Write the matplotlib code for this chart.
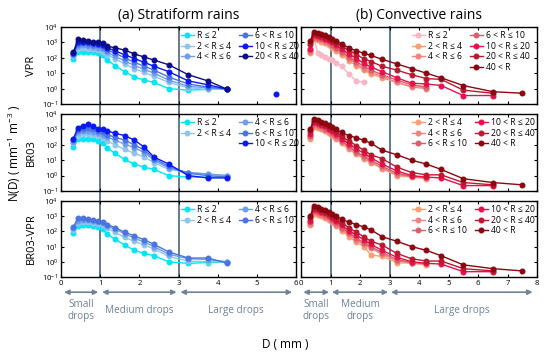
import numpy as np
import matplotlib
matplotlib.use('Agg')
import matplotlib.pyplot as plt
from matplotlib.lines import Line2D
from matplotlib.transforms import blended_transform_factory

plt.rcParams['font.family'] = ['Open Sans', 'DejaVu Sans']
plt.rcParams['mathtext.fontset'] = 'custom'
plt.rcParams['mathtext.rm'] = 'Open Sans'

nan = np.nan
# drop diameter bins (mm)
D = [0.312, 0.437, 0.562, 0.687, 0.812, 0.937, 1.062, 1.187, 1.375, 1.625,
     1.875, 2.125, 2.375, 2.75, 3.25, 3.75, 4.25, 4.75, 5.5, 6.5, 7.5]

lab_R2 = 'R ≤ 2'
lab_R4 = '2 < R ≤ 4'
lab_R6 = '4 < R ≤ 6'
lab_R10 = '6 < R ≤ 10'
lab_R20 = '10 < R ≤ 20'
lab_R40 = '20 < R ≤ 40'
lab_R99 = '40 < R'

# log10 N(D) values
# (a) Stratiform - VPR
s_vpr_R2 = [1.9, 2.35, 2.4, 2.4, 2.38, 2.3, 2.15, 1.85, 1.5, 1.1, 0.75, 0.55, 0.4, 0.0, -0.1, -0.05, 0.0]
s_vpr_R4 = [2.1, 2.6, 2.65, 2.6, 2.55, 2.5, 2.4, 2.2, 1.95, 1.6, 1.3, 1.05, 0.8, 0.4, 0.05, -0.05, 0.0]
s_vpr_R6 = [2.2, 2.75, 2.8, 2.75, 2.7, 2.65, 2.55, 2.35, 2.1, 1.8, 1.5, 1.25, 1.0, 0.55, 0.15, 0.05, 0.0]
s_vpr_R10 = [2.25, 2.9, 2.95, 2.9, 2.85, 2.8, 2.7, 2.5, 2.3, 2.0, 1.7, 1.45, 1.2, 0.75, 0.3, 0.1, -0.05]
s_vpr_R20 = [2.3, 3.05, 3.05, 3.0, 2.95, 2.9, 2.8, 2.65, 2.45, 2.2, 1.95, 1.7, 1.45, 1.1, 0.5, 0.25, -0.05, nan, -0.35]
s_vpr_R40 = [2.35, 3.2, 3.15, 3.1, 3.05, 3.0, 2.95, 2.75, 2.65, 2.5, 2.25, 2.05, 1.85, 1.55, 0.9, 0.5, -0.05]
# (a) Stratiform - BR03
s_br_R2 = [1.85, 2.35, 2.4, 2.4, 2.35, 2.25, 2.1, 1.8, 1.45, 1.05, 0.75, 0.55, 0.4, 0.0, -0.1, -0.1, -0.05]
s_br_R4 = [2.1, 2.6, 2.7, 2.7, 2.65, 2.55, 2.45, 2.25, 2.0, 1.7, 1.45, 1.2, 0.85, 0.4, 0.2, 0.1, 0.0]
s_br_R6 = [2.2, 2.8, 2.9, 2.9, 2.85, 2.75, 2.65, 2.5, 2.3, 2.05, 1.8, 1.5, 1.0, 0.5, 0.2, 0.1, 0.0]
s_br_R10 = [2.3, 2.95, 3.05, 3.1, 3.0, 2.9, 2.8, 2.65, 2.5, 2.3, 2.0, 1.65, 1.1, 0.6, 0.15, 0.0, -0.1]
s_br_R20 = [2.4, 3.1, 3.25, 3.35, 3.2, 3.05, 3.0, 2.9, 2.75, 2.6, 2.3, 1.85, 1.2, 0.75, 0.0, -0.15, -0.15]
# (a) Stratiform - BR03-VPR
s_bv_R2 = [1.9, 2.35, 2.4, 2.4, 2.38, 2.3, 2.15, 1.8, 1.5, 1.1, 0.75, 0.55, 0.4, 0.0, -0.1, -0.05, 0.0]
s_bv_R4 = [2.1, 2.55, 2.6, 2.6, 2.55, 2.5, 2.4, 2.2, 1.95, 1.6, 1.35, 1.1, 0.85, 0.35, 0.05, 0.0, 0.0]
s_bv_R6 = [2.2, 2.7, 2.75, 2.75, 2.7, 2.65, 2.55, 2.35, 2.15, 1.85, 1.55, 1.3, 1.0, 0.5, 0.2, 0.15, 0.0]
s_bv_R10 = [2.3, 2.85, 2.85, 2.8, 2.75, 2.7, 2.65, 2.45, 2.25, 1.95, 1.7, 1.45, 1.15, 0.65, 0.25, 0.25, -0.1]
# (b) Convective - VPR
c_vpr_R2 = [2.8, 3.4, 2.3, 2.15, 2.05, 1.95, 1.85, 1.65, 1.45, 0.95, 0.5, 0.4]
c_vpr_R4 = [2.3, 3.2, 3.15, 3.05, 2.95, 2.8, 2.65, 2.45, 2.2, 1.8, 1.5, 1.2, 0.95, 0.7, 0.4, 0.15, 0.05]
c_vpr_R6 = [2.4, 3.3, 3.25, 3.2, 3.05, 2.95, 2.75, 2.55, 2.3, 1.95, 1.6, 1.3, 1.05, 0.8, 0.4, 0.1, 0.0]
c_vpr_R10 = [2.5, 3.35, 3.3, 3.25, 3.15, 3.0, 2.85, 2.65, 2.4, 2.05, 1.75, 1.45, 1.2, 0.9, 0.55, 0.25, 0.1]
c_vpr_R20 = [2.6, 3.45, 3.4, 3.35, 3.25, 3.15, 3.0, 2.8, 2.55, 2.25, 1.95, 1.65, 1.4, 1.1, 0.7, 0.35, 0.3, 0.2, -0.45, -0.45]
c_vpr_R40 = [2.9, 3.55, 3.5, 3.45, 3.35, 3.25, 3.1, 2.95, 2.75, 2.5, 2.2, 1.95, 1.75, 1.45, 1.2, 0.9, 0.65, 0.6, -0.1, -0.3]
c_vpr_R99 = [3.1, 3.65, 3.6, 3.55, 3.45, 3.35, 3.25, 3.1, 2.9, 2.65, 2.45, 2.3, 2.15, 1.9, 1.6, 1.3, 1.0, 0.7, 0.2, -0.2, -0.3]
# (b) Convective - BR03
c_br_R4 = [2.4, 3.15, 3.1, 3.0, 2.9, 2.75, 2.6, 2.4, 2.1, 1.7, 1.4, 1.1, 0.85, 0.45, 0.0, -0.1, -0.2]
c_br_R6 = [2.5, 3.25, 3.2, 3.1, 2.95, 2.85, 2.65, 2.45, 2.15, 1.8, 1.45, 1.15, 0.9, 0.5, 0.05, -0.05, -0.15]
c_br_R10 = [2.6, 3.35, 3.3, 3.2, 3.05, 2.95, 2.75, 2.55, 2.25, 1.9, 1.55, 1.25, 1.0, 0.6, 0.15, -0.05, -0.1]
c_br_R20 = [2.7, 3.45, 3.4, 3.3, 3.2, 3.05, 2.9, 2.7, 2.4, 2.05, 1.75, 1.45, 1.15, 0.75, 0.3, 0.0, -0.1, -0.15, -0.65, -0.65]
c_br_R40 = [2.9, 3.55, 3.5, 3.4, 3.3, 3.15, 3.0, 2.8, 2.55, 2.25, 1.95, 1.65, 1.35, 1.1, 0.55, 0.2, 0.05, 0.05, -0.45, -0.6]
c_br_R99 = [3.0, 3.65, 3.6, 3.5, 3.4, 3.3, 3.15, 3.0, 2.8, 2.6, 2.45, 2.3, 2.1, 1.65, 1.35, 1.0, 0.75, 0.4, -0.2, -0.45, -0.6]
# (b) Convective - BR03-VPR
c_bv_R4 = [2.4, 3.15, 3.1, 3.0, 2.9, 2.75, 2.6, 2.35, 2.05, 1.65, 1.3, 1.0, 0.45, 0.35, -0.05, -0.1, -0.2]
c_bv_R6 = [2.5, 3.25, 3.2, 3.1, 2.95, 2.85, 2.65, 2.45, 2.15, 1.8, 1.45, 1.15, 0.9, 0.5, 0.05, -0.05, -0.15]
c_bv_R10 = [2.6, 3.35, 3.3, 3.2, 3.05, 2.95, 2.75, 2.55, 2.25, 1.9, 1.55, 1.25, 1.0, 0.6, 0.15, -0.05, -0.1]
c_bv_R20 = [2.7, 3.45, 3.4, 3.3, 3.2, 3.05, 2.9, 2.7, 2.4, 2.05, 1.75, 1.45, 1.15, 0.75, 0.3, 0.0, -0.1, -0.15, -0.65, -0.65]
c_bv_R40 = [2.9, 3.55, 3.5, 3.4, 3.3, 3.15, 3.0, 2.8, 2.55, 2.25, 1.95, 1.65, 1.35, 1.1, 0.55, 0.2, 0.05, 0.05, -0.45, -0.6]
c_bv_R99 = [3.0, 3.65, 3.6, 3.5, 3.4, 3.3, 3.15, 3.0, 2.8, 2.6, 2.45, 2.3, 2.1, 1.65, 1.35, 1.0, 0.75, 0.4, -0.2, -0.45, -0.6]

blue_R2, blue_R4, blue_R6, blue_R10, blue_R20, blue_R40 = '#00e6f4', '#8fc6ee', '#6e9eec', '#4a74e0', '#0a18f2', '#0c0c88'
red_R2, red_R4, red_R6, red_R10, red_R20, red_R40, red_R99 = '#f8b6c6', '#f8a070', '#f08282', '#d6606c', '#e8104c', '#be1830', '#8c0610'

panels = [
    # (row, col, series list, legend blank index)
    (0, 0, [(s_vpr_R2, blue_R2, lab_R2), (s_vpr_R4, blue_R4, lab_R4), (s_vpr_R6, blue_R6, lab_R6),
            (s_vpr_R10, blue_R10, lab_R10), (s_vpr_R20, blue_R20, lab_R20), (s_vpr_R40, blue_R40, lab_R40)], None),
    (1, 0, [(s_br_R2, blue_R2, lab_R2), (s_br_R4, blue_R4, lab_R4), (s_br_R6, blue_R6, lab_R6),
            (s_br_R10, blue_R10, lab_R10), (s_br_R20, blue_R20, lab_R20)], 2),
    (2, 0, [(s_bv_R2, blue_R2, lab_R2), (s_bv_R4, blue_R4, lab_R4), (s_bv_R6, blue_R6, lab_R6),
            (s_bv_R10, blue_R10, lab_R10)], None),
    (0, 1, [(c_vpr_R2, red_R2, lab_R2), (c_vpr_R4, red_R4, lab_R4), (c_vpr_R6, red_R6, lab_R6),
            (c_vpr_R10, red_R10, lab_R10), (c_vpr_R20, red_R20, lab_R20), (c_vpr_R40, red_R40, lab_R40),
            (c_vpr_R99, red_R99, lab_R99)], 3),
    (1, 1, [(c_br_R4, red_R4, lab_R4), (c_br_R6, red_R6, lab_R6), (c_br_R10, red_R10, lab_R10),
            (c_br_R20, red_R20, lab_R20), (c_br_R40, red_R40, lab_R40), (c_br_R99, red_R99, lab_R99)], None),
    (2, 1, [(c_bv_R4, red_R4, lab_R4), (c_bv_R6, red_R6, lab_R6), (c_bv_R10, red_R10, lab_R10),
            (c_bv_R20, red_R20, lab_R20), (c_bv_R40, red_R40, lab_R40), (c_bv_R99, red_R99, lab_R99)], None),
]

W, H = 550, 358
fig = plt.figure(figsize=(W / 100, H / 100), dpi=100)

col_x = [(61, 296), (301, 537)]
row_y = [(27, 104), (114, 191), (201, 277)]
xmax = [6, 8]
axes = {}
for r in range(3):
    for c in range(2):
        x0, x1 = col_x[c]
        y0, y1 = row_y[r]
        ax = fig.add_axes([x0 / W, 1 - y1 / H, (x1 - x0) / W, (y1 - y0) / H])
        ax.set_facecolor('none')
        axes[(r, c)] = ax

for r, c, series, blank in panels:
    ax = axes[(r, c)]
    handles = []
    for vals, col, lab in series:
        n = len(vals)
        y = 10 ** np.array(vals, dtype=float)
        h, = ax.plot(D[:n], y, '-o', color=col, lw=1.0, ms=3.3, label=lab)
        handles.append(h)
    labels = [h.get_label() for h in handles]
    if blank is not None:
        handles.insert(blank, Line2D([], [], lw=0, marker=None))
        labels.insert(blank, '')
    lx = 0.51 if c == 0 else 0.47
    ax.legend(handles, labels, loc='upper left', bbox_to_anchor=(lx, 0.95), ncol=2,
              frameon=False, fontsize=6.2, handlelength=1.5, handletextpad=0.4,
              columnspacing=0.9, labelspacing=0.2, borderaxespad=0, borderpad=0)
    ax.set_yscale('log')
    ax.set_ylim(0.1, 1e4)
    ax.set_xlim(0, xmax[c])
    ax.set_xticks(range(0, xmax[c] + 1))
    ax.set_yticks([1e-1, 1e0, 1e1, 1e2, 1e3, 1e4])
    ax.minorticks_off()
    ax.tick_params(direction='in', top=True, right=True, length=2.5, width=0.8,
                   labelsize=5.6, pad=2)
    if c == 1:
        ax.tick_params(labelleft=False)
    if r < 2:
        ax.tick_params(labelbottom=False)
    for s in ax.spines.values():
        s.set_linewidth(1.0)

# vertical separators at D = 1 and 3 mm, spanning all rows
sep_col = '#63788f'
for c in range(2):
    ax = axes[(2, c)]
    tr = blended_transform_factory(ax.transData, fig.transFigure)
    for xv in [1, 3]:
        fig.add_artist(Line2D([xv, xv], [1 - row_y[2][1] / H, 1 - row_y[0][0] / H],
                              transform=tr, color=sep_col, lw=1.4, zorder=-1))

# arrows and drop-size labels
arr_col = '#6f8398'
ranges = {0: [(0.08, 0.95, 'Small\ndrops'), (1.05, 2.95, 'Medium drops'), (3.05, 5.9, 'Large drops')],
          1: [(0.08, 0.95, 'Small\ndrops'), (1.05, 2.95, 'Medium\ndrops'), (3.05, 7.85, 'Large drops')]}
for c in range(2):
    ax = axes[(2, c)]
    tr = ax.get_xaxis_transform()
    for a, b, txt in ranges[c]:
        ax.annotate('', xy=(a, -0.2), xytext=(b, -0.2), xycoords=tr, textcoords=tr,
                    arrowprops=dict(arrowstyle='<|-|>', color=arr_col, lw=1.2,
                                    mutation_scale=7, shrinkA=0, shrinkB=0),
                    annotation_clip=False)
        ax.text((a + b) / 2, -0.44, txt, transform=tr, ha='center', va='center',
                fontsize=7.2, color=arr_col, linespacing=1.1)

# titles and axis labels
fig.text((61 + 296) / 2 / W, 1 - 15 / H, '(a) Stratiform rains', ha='center', va='center', fontsize=10)
fig.text((301 + 537) / 2 / W, 1 - 15 / H, '(b) Convective rains', ha='center', va='center', fontsize=10)
row_names = ['VPR', 'BR03', 'BR03-VPR']
for r in range(3):
    yc = 1 - (row_y[r][0] + row_y[r][1]) / 2 / H
    fig.text(31 / W, yc, row_names[r], rotation=90, ha='center', va='center', fontsize=8)
fig.text(14 / W, 1 - 153 / H, 'N(D) ( mm$^{-1}$ m$^{-3}$ )', rotation=90, ha='center', va='center', fontsize=8.5)
fig.text(285 / W, 1 - 344 / H, 'D ( mm )', ha='center', va='center', fontsize=8.5)

fig.savefig('out.png', dpi=100)
